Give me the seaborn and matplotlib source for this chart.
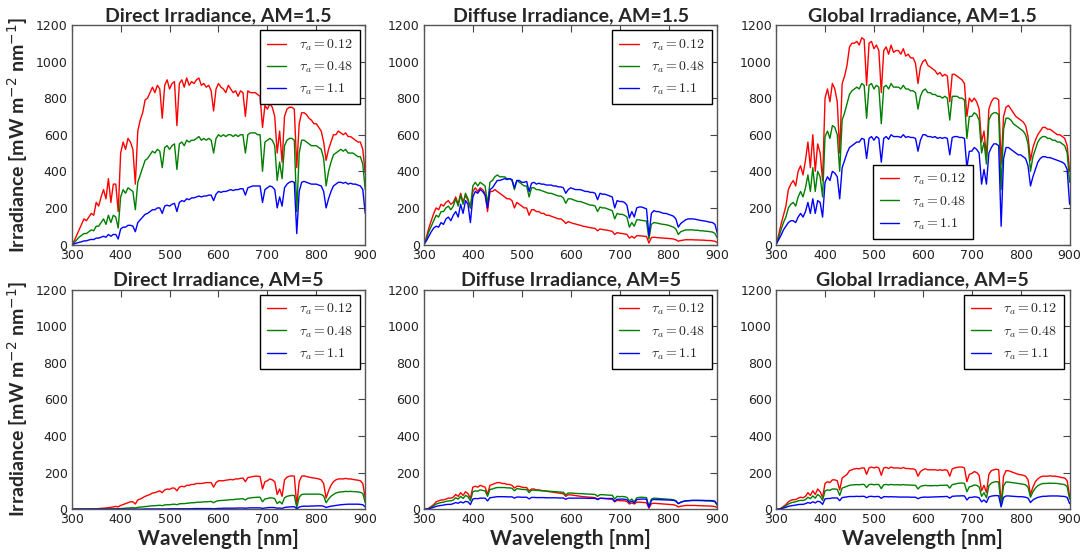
import numpy as np
import seaborn as sns
from matplotlib import pyplot as plt
from matplotlib.font_manager import FontProperties

# wavelength grid [nm]
wl = np.arange(300, 901, 5)

# ---- Direct irradiance, AM=1.5
direct15_r = [0, 20, 50, 80, 110, 140, 130, 150, 170, 160,
              230, 210, 260, 300, 250, 360, 230, 330, 330, 180,
              500, 560, 520, 580, 560, 520, 330, 620, 680, 720,
              790, 800, 830, 860, 830, 870, 850, 690, 870, 900,
              850, 880, 890, 650, 880, 900, 860, 910, 870, 890,
              880, 900, 910, 870, 880, 860, 870, 840, 730, 850,
              880, 860, 850, 830, 870, 850, 830, 840, 810, 840,
              830, 700, 840, 830, 830, 830, 820, 810, 640, 760,
              740, 770, 750, 700, 500, 620, 450, 700, 740, 750,
              750, 740, 420, 660, 720, 720, 710, 690, 680, 660,
              660, 640, 620, 560, 460, 520, 560, 600, 600, 620,
              610, 600, 610, 590, 590, 580, 570, 560, 560, 520,
              390]
direct15_g = [0, 10, 25, 40, 50, 60, 60, 70, 80, 75,
              100, 100, 120, 140, 110, 160, 120, 160, 150, 90,
              260, 300, 280, 310, 300, 290, 190, 340, 380, 420,
              460, 470, 490, 510, 500, 520, 510, 420, 530, 540,
              520, 540, 550, 410, 550, 560, 540, 570, 560, 570,
              570, 580, 590, 570, 580, 570, 580, 570, 500, 580,
              600, 590, 600, 590, 600, 600, 590, 600, 590, 600,
              600, 500, 600, 610, 610, 610, 600, 600, 400, 560,
              570, 580, 570, 540, 350, 450, 360, 540, 570, 580,
              580, 570, 180, 500, 570, 570, 560, 550, 540, 540,
              540, 530, 520, 470, 320, 400, 450, 490, 500, 510,
              520, 510, 520, 500, 500, 500, 490, 480, 480, 440,
              300]
direct15_b = [0, 3, 8, 12, 15, 20, 20, 25, 28, 27,
              35, 35, 40, 45, 40, 55, 45, 55, 55, 30,
              85, 95, 95, 105, 105, 100, 70, 120, 135, 150,
              165, 170, 180, 190, 190, 200, 200, 170, 210, 215,
              210, 220, 225, 180, 230, 240, 235, 250, 245, 255,
              255, 260, 265, 260, 265, 265, 270, 270, 240, 275,
              290, 285, 290, 290, 295, 300, 295, 300, 300, 305,
              305, 270, 310, 315, 320, 320, 320, 320, 230, 300,
              310, 320, 315, 300, 200, 260, 210, 310, 330, 340,
              345, 340, 60, 290, 340, 345, 340, 335, 330, 330,
              330, 325, 320, 290, 200, 250, 290, 320, 330, 340,
              340, 335, 340, 330, 335, 330, 330, 325, 320, 300,
              170]

# ---- Diffuse irradiance, AM=1.5
diffuse15_r = [0, 40, 90, 130, 170, 200, 190, 220, 210, 230,
               240, 220, 230, 260, 220, 280, 230, 270, 240, 200,
               290, 310, 290, 310, 300, 280, 180, 290, 290, 300,
               290, 280, 270, 260, 250, 250, 240, 200, 230, 220,
               210, 200, 200, 160, 190, 190, 180, 180, 170, 170,
               160, 160, 155, 150, 145, 140, 140, 130, 115, 125,
               120, 115, 112, 108, 105, 100, 98, 95, 92, 90,
               88, 75, 85, 82, 80, 78, 75, 72, 55, 65,
               62, 60, 58, 55, 35, 45, 35, 48, 48, 47,
               45, 44, 8, 38, 40, 38, 37, 36, 35, 34,
               33, 32, 30, 26, 18, 22, 24, 26, 26, 26,
               26, 25, 25, 24, 24, 23, 22, 22, 20, 18,
               10]
diffuse15_g = [0, 30, 70, 100, 130, 160, 150, 180, 180, 200,
               210, 190, 210, 250, 210, 270, 220, 280, 250, 200,
               320, 340, 320, 340, 330, 320, 220, 340, 350, 370,
               380, 370, 370, 370, 360, 360, 350, 300, 350, 340,
               330, 320, 320, 260, 310, 310, 300, 300, 295, 290,
               285, 280, 280, 275, 270, 265, 265, 255, 225, 250,
               250, 245, 240, 235, 235, 230, 225, 220, 215, 215,
               210, 180, 205, 200, 200, 195, 190, 185, 140, 170,
               165, 165, 160, 150, 95, 120, 100, 135, 135, 132,
               130, 128, 30, 110, 120, 118, 115, 112, 110, 108,
               105, 100, 95, 85, 55, 70, 75, 80, 80, 80,
               80, 78, 78, 75, 75, 73, 72, 70, 68, 60,
               35]
diffuse15_b = [0, 20, 45, 70, 90, 100, 95, 120, 110, 140,
               150, 130, 160, 180, 150, 220, 170, 240, 220, 120,
               260, 290, 280, 300, 290, 270, 200, 300, 310, 330,
               350, 350, 355, 360, 355, 360, 355, 310, 350, 350,
               340, 340, 345, 290, 335, 340, 330, 335, 330, 330,
               325, 325, 325, 320, 320, 315, 315, 310, 280, 300,
               310, 305, 300, 300, 300, 295, 290, 290, 285, 285,
               280, 245, 280, 275, 275, 270, 265, 260, 200, 240,
               235, 235, 230, 215, 145, 180, 150, 200, 205, 205,
               200, 195, 50, 170, 185, 180, 180, 175, 170, 170,
               165, 160, 155, 140, 95, 115, 125, 135, 140, 140,
               140, 138, 135, 132, 130, 128, 125, 122, 120, 110,
               60]

# ---- Global irradiance, AM=1.5
global15_r = [0, 50, 110, 160, 210, 300, 330, 350, 320, 400,
              430, 380, 460, 560, 420, 600, 400, 550, 500, 350,
              800, 850, 780, 880, 850, 780, 500, 880, 920, 980,
              1080, 1100, 1100, 1110, 1090, 1130, 1120, 870, 1100, 1110,
              1070, 1090, 1060, 830, 1060, 1080, 1040, 1090, 1050, 1060,
              1060, 1040, 1070, 1030, 1040, 1020, 1020, 990, 880, 970,
              1000, 1010, 980, 970, 960, 950, 930, 940, 920, 930,
              920, 780, 930, 930, 920, 910, 900, 880, 700, 800,
              780, 800, 780, 740, 560, 620, 480, 740, 780, 800,
              800, 790, 440, 700, 750, 760, 740, 720, 700, 690,
              680, 670, 650, 590, 460, 530, 570, 600, 620, 640,
              640, 630, 630, 620, 610, 600, 600, 590, 580, 540,
              400]
global15_g = [0, 35, 80, 120, 150, 200, 220, 230, 210, 260,
              290, 260, 310, 380, 290, 420, 290, 400, 370, 260,
              590, 620, 580, 650, 640, 600, 400, 680, 720, 770,
              820, 840, 850, 860, 850, 880, 870, 690, 870, 880,
              850, 870, 860, 660, 860, 870, 850, 880, 860, 860,
              860, 850, 870, 850, 850, 840, 840, 830, 740, 810,
              840, 850, 830, 830, 820, 820, 810, 810, 800, 810,
              800, 680, 810, 810, 810, 800, 800, 790, 580, 700,
              700, 720, 710, 680, 500, 560, 440, 680, 710, 720,
              720, 710, 300, 630, 690, 690, 680, 660, 650, 640,
              630, 620, 600, 550, 400, 480, 520, 560, 580, 590,
              590, 580, 580, 570, 570, 560, 560, 550, 540, 500,
              340]
global15_b = [0, 25, 50, 80, 100, 120, 130, 130, 120, 150,
              170, 150, 180, 230, 170, 250, 170, 240, 230, 150,
              340, 370, 350, 400, 390, 370, 250, 420, 460, 500,
              530, 540, 550, 560, 560, 580, 575, 470, 580, 590,
              570, 590, 580, 450, 580, 590, 575, 600, 590, 590,
              590, 585, 600, 585, 590, 585, 585, 580, 510, 570,
              600, 600, 590, 590, 585, 590, 580, 585, 580, 585,
              580, 490, 585, 590, 590, 585, 585, 580, 420, 510,
              510, 530, 520, 500, 330, 410, 330, 500, 530, 550,
              550, 540, 100, 470, 530, 530, 520, 510, 500, 490,
              490, 480, 470, 430, 320, 370, 410, 450, 470, 480,
              480, 475, 475, 470, 465, 460, 455, 450, 440, 410,
              220]

# ---- Direct irradiance, AM=5
direct5_r = [0, 0, 0, 0, 0, 0, 0, 1, 1, 2,
             2, 3, 4, 5, 6, 8, 10, 12, 15, 12,
             20, 25, 30, 35, 40, 40, 28, 50, 55, 62,
             70, 75, 80, 88, 90, 95, 100, 90, 105, 110,
             108, 115, 115, 100, 120, 125, 122, 130, 130, 135,
             135, 140, 140, 140, 142, 145, 145, 145, 120, 145,
             155, 155, 155, 158, 160, 162, 160, 165, 165, 168,
             170, 150, 172, 175, 178, 180, 180, 178, 110, 150,
             155, 165, 160, 150, 80, 110, 70, 160, 175, 180,
             182, 180, 20, 150, 180, 182, 178, 175, 172, 170,
             168, 165, 160, 140, 60, 100, 130, 150, 160, 165,
             165, 165, 168, 165, 165, 162, 160, 158, 155, 140,
             60]
direct5_g = [0, 0, 0, 0, 0, 0, 0, 0, 0, 0,
             0, 0, 0, 0, 1, 1, 1, 2, 2, 2,
             3, 4, 5, 6, 7, 8, 6, 10, 11, 12,
             14, 15, 17, 18, 19, 20, 21, 19, 23, 24,
             24, 26, 27, 24, 29, 30, 30, 32, 33, 35,
             35, 37, 38, 38, 40, 40, 41, 42, 35, 43,
             46, 47, 48, 49, 50, 52, 52, 54, 55, 56,
             57, 50, 59, 61, 63, 64, 65, 65, 40, 56,
             58, 62, 61, 57, 30, 42, 28, 62, 70, 73,
             75, 75, 8, 65, 80, 82, 82, 82, 82, 82,
             82, 82, 80, 72, 35, 55, 70, 80, 88, 92,
             94, 95, 97, 96, 97, 96, 95, 94, 92, 85,
             35]
direct5_b = [0, 0, 0, 0, 0, 0, 0, 0, 0, 0,
             0, 0, 0, 0, 0, 0, 0, 0, 0, 0,
             0, 0, 0, 0, 0, 0, 0, 0, 0, 0,
             1, 1, 1, 1, 1, 1, 1, 1, 1, 1,
             2, 2, 2, 2, 2, 2, 2, 2, 2, 2,
             3, 3, 3, 3, 3, 3, 3, 3, 2, 3,
             4, 4, 5, 5, 5, 5, 5, 5, 6, 6,
             6, 5, 6, 7, 7, 7, 7, 7, 4, 6,
             8, 9, 9, 8, 5, 6, 4, 9, 11, 12,
             13, 13, 2, 11, 15, 16, 16, 16, 17, 17,
             18, 18, 18, 16, 9, 13, 16, 18, 20, 22,
             24, 25, 26, 27, 27, 27, 27, 27, 26, 24,
             12]

# ---- Diffuse irradiance, AM=5
diffuse5_r = [0, 0, 5, 15, 25, 40, 45, 50, 50, 55,
              60, 60, 65, 80, 70, 90, 75, 95, 85, 60,
              120, 125, 120, 130, 125, 120, 80, 130, 135, 140,
              145, 145, 140, 140, 135, 135, 130, 115, 125, 125,
              120, 118, 118, 100, 110, 110, 105, 105, 102, 100,
              98, 96, 94, 92, 90, 88, 86, 84, 70, 78,
              78, 76, 74, 72, 70, 68, 67, 66, 65, 64,
              62, 55, 60, 59, 58, 56, 55, 54, 40, 48,
              46, 46, 45, 42, 28, 34, 28, 38, 38, 37,
              36, 35, 5, 30, 32, 31, 30, 29, 28, 27,
              26, 25, 24, 20, 12, 16, 18, 20, 20, 20,
              20, 20, 19, 19, 18, 18, 17, 17, 16, 14,
              8]
diffuse5_g = [0, 0, 3, 10, 18, 28, 32, 36, 38, 42,
              45, 45, 50, 62, 55, 70, 58, 75, 68, 45,
              95, 100, 98, 105, 102, 100, 70, 108, 110, 115,
              118, 118, 118, 118, 116, 116, 114, 100, 112, 110,
              108, 107, 107, 90, 104, 104, 102, 102, 100, 100,
              99, 98, 97, 96, 95, 94, 93, 92, 78, 88,
              88, 87, 86, 85, 85, 84, 83, 82, 82, 81,
              80, 70, 79, 79, 78, 77, 76, 76, 55, 70,
              68, 69, 68, 64, 45, 55, 40, 62, 64, 65,
              64, 63, 12, 55, 60, 59, 58, 57, 56, 55,
              54, 53, 51, 46, 30, 38, 42, 45, 46, 47,
              47, 47, 47, 46, 46, 45, 45, 44, 43, 40,
              20]
diffuse5_b = [0, 0, 2, 6, 10, 15, 18, 20, 22, 25,
              26, 26, 30, 36, 32, 40, 34, 42, 40, 25,
              55, 58, 57, 60, 60, 60, 45, 62, 64, 66,
              68, 68, 68, 68, 67, 67, 67, 60, 66, 66,
              65, 65, 65, 56, 64, 64, 63, 63, 63, 63,
              62, 62, 62, 62, 62, 61, 61, 61, 54, 60,
              60, 60, 60, 60, 60, 60, 60, 59, 59, 59,
              59, 52, 59, 59, 58, 58, 58, 58, 42, 54,
              54, 55, 54, 51, 36, 44, 33, 52, 54, 55,
              55, 54, 10, 48, 53, 52, 52, 51, 51, 50,
              50, 49, 48, 44, 30, 37, 42, 45, 46, 47,
              48, 48, 48, 48, 48, 47, 47, 47, 46, 43,
              22]

# ---- Global irradiance, AM=5
global5_r = [0, 0, 5, 15, 25, 40, 48, 52, 52, 60,
             65, 62, 70, 90, 75, 100, 80, 110, 95, 65,
             140, 150, 145, 160, 160, 155, 105, 170, 180, 190,
             210, 215, 220, 222, 220, 225, 225, 190, 225, 230,
             225, 230, 225, 185, 225, 228, 222, 230, 225, 225,
             225, 222, 228, 222, 222, 220, 220, 215, 180, 205,
             215, 220, 215, 215, 215, 215, 212, 215, 212, 215,
             212, 180, 220, 225, 228, 230, 230, 225, 150, 190,
             195, 205, 200, 185, 100, 130, 90, 190, 210, 215,
             218, 215, 25, 180, 210, 210, 205, 200, 195, 190,
             188, 185, 180, 160, 80, 120, 150, 165, 175, 180,
             180, 180, 182, 180, 180, 178, 175, 172, 170, 155,
             70]
global5_g = [0, 0, 3, 10, 18, 28, 34, 38, 40, 45,
             48, 47, 52, 65, 57, 72, 60, 80, 70, 48,
             100, 105, 103, 110, 110, 108, 75, 115, 120, 125,
             130, 132, 133, 134, 133, 135, 135, 118, 134, 136,
             133, 135, 134, 112, 133, 135, 132, 135, 133, 133,
             133, 132, 134, 132, 132, 131, 131, 130, 110, 124,
             128, 130, 128, 128, 128, 129, 128, 130, 130, 131,
             131, 115, 134, 137, 140, 142, 143, 140, 95, 122,
             125, 132, 130, 122, 70, 90, 62, 128, 142, 148,
             150, 148, 20, 128, 148, 148, 146, 144, 142, 140,
             138, 136, 133, 120, 65, 95, 115, 128, 135, 140,
             140, 141, 142, 141, 141, 140, 138, 136, 134, 122,
             55]
global5_b = [0, 0, 2, 6, 10, 15, 18, 20, 22, 25,
             26, 26, 30, 36, 32, 40, 34, 43, 40, 26,
             56, 58, 58, 61, 61, 61, 46, 63, 65, 67,
             69, 69, 69, 70, 69, 70, 70, 62, 69, 70,
             68, 69, 69, 59, 68, 68, 67, 68, 67, 67,
             66, 66, 66, 66, 66, 65, 65, 65, 57, 63,
             65, 66, 65, 66, 66, 67, 67, 68, 68, 69,
             69, 60, 70, 71, 72, 72, 73, 72, 50, 64,
             64, 67, 66, 62, 40, 50, 36, 66, 71, 73,
             74, 73, 12, 64, 72, 72, 71, 70, 69, 68,
             68, 67, 65, 60, 36, 50, 58, 64, 67, 70,
             70, 71, 72, 72, 72, 72, 71, 70, 69, 64,
             30]

tau_labels = [r'$\tau_a=0.12$', r'$\tau_a=0.48$', r'$\tau_a=1.1$']
colors = ['#ff0000', '#007f00', '#0000ff']

panels = [
    ('Direct Irradiance, AM=1.5', [direct15_r, direct15_g, direct15_b], 'upper right'),
    ('Diffuse Irradiance, AM=1.5', [diffuse15_r, diffuse15_g, diffuse15_b], 'upper right'),
    ('Global Irradiance, AM=1.5', [global15_r, global15_g, global15_b], 'lower center'),
    ('Direct Irradiance, AM=5', [direct5_r, direct5_g, direct5_b], 'upper right'),
    ('Diffuse Irradiance, AM=5', [diffuse5_r, diffuse5_g, diffuse5_b], 'upper right'),
    ('Global Irradiance, AM=5', [global5_r, global5_g, global5_b], 'upper right'),
]

sns.set_style('white')
plt.rcParams['font.family'] = ['DejaVu Sans']
bold_font = ['Lato', 'DejaVu Sans']

fig, axes = plt.subplots(2, 3, figsize=(10.87, 5.54), dpi=100)
fig.subplots_adjust(left=0.066, right=0.984, top=0.955, bottom=0.081,
                    wspace=0.2, hspace=0.205)

for i, (ax, (title, series, loc)) in enumerate(zip(axes.flat, panels)):
    for vals, lab, col in zip(series, tau_labels, colors):
        assert len(vals) == len(wl), (title, lab, len(vals))
        sns.lineplot(x=wl, y=vals, ax=ax, color=col, lw=1, label=lab,
                     estimator=None, sort=False)
    ax.set_xlim(300, 900)
    ax.set_ylim(0, 1200)
    ax.set_xticks(range(300, 901, 100))
    ax.set_yticks(range(0, 1201, 200))
    ax.tick_params(direction='in', top=True, right=True, length=5, width=0.8,
                   labelsize=9, labelcolor='#222222', color='#444444', pad=3)
    for sp in ax.spines.values():
        sp.set_color('#555555')
        sp.set_linewidth(1)
    ax.set_title(title, fontsize=14, fontweight='bold', family=bold_font, pad=3)
    ax.set_xlabel('')
    ax.set_ylabel('')
    if i % 3 == 0:
        ax.set_ylabel(r'Irradiance [mW m$^{-2}$ nm$^{-1}$]', fontsize=14,
                      fontweight='bold', family=bold_font, labelpad=4)
    if i >= 3:
        ax.set_xlabel('Wavelength [nm]', fontsize=15, fontweight='bold',
                      family=bold_font, labelpad=2)
    leg = ax.legend(loc=loc, prop=FontProperties(size=10, math_fontfamily='cm'),
                    fancybox=False, framealpha=1, edgecolor='black',
                    handlelength=1.4, handletextpad=0.9, borderpad=0.5,
                    labelspacing=0.5, borderaxespad=0.4)
    leg.get_frame().set_linewidth(1)

fig.savefig('out.png', dpi=100)
